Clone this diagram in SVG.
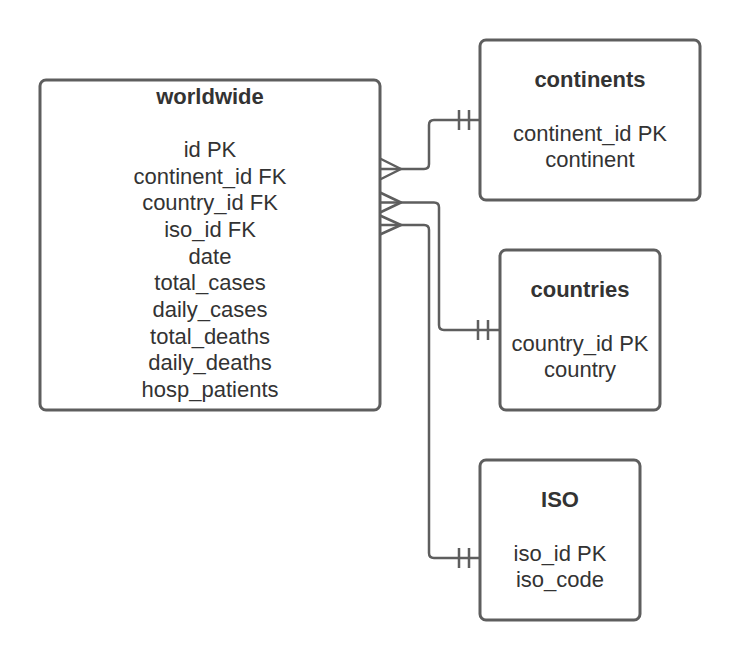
<svg xmlns="http://www.w3.org/2000/svg" width="740" height="660" viewBox="0 0 740 660">
<style>
.box{fill:#ffffff;stroke:#5e5e5e;stroke-width:3}
.ln{fill:none;stroke:#5e5e5e;stroke-width:2.5;stroke-linejoin:round}
.t{font-family:"Liberation Sans",Arial,sans-serif;font-size:22px;fill:#333333;text-anchor:middle}
.h{font-weight:bold}
</style>
<rect width="740" height="660" fill="#ffffff"/>
<g id="worldwide">
<rect class="box" x="40" y="80" width="340" height="330" rx="6"/>
<text class="t h" x="210" y="104">worldwide</text>
<text class="t" x="210" y="157">id PK</text>
<text class="t" x="210" y="184">continent_id FK</text>
<text class="t" x="210" y="210">country_id FK</text>
<text class="t" x="210" y="237">iso_id FK</text>
<text class="t" x="210" y="264">date</text>
<text class="t" x="210" y="290">total_cases</text>
<text class="t" x="210" y="317">daily_cases</text>
<text class="t" x="210" y="344">total_deaths</text>
<text class="t" x="210" y="370">daily_deaths</text>
<text class="t" x="210" y="397">hosp_patients</text>
</g>
<g id="continents">
<rect class="box" x="480" y="40" width="220" height="160" rx="6"/>
<text class="t h" x="590" y="87">continents</text>
<text class="t" x="590" y="141">continent_id PK</text>
<text class="t" x="590" y="167">continent</text>
</g>
<g id="countries">
<rect class="box" x="500" y="250" width="160" height="160" rx="6"/>
<text class="t h" x="580" y="297">countries</text>
<text class="t" x="580" y="351">country_id PK</text>
<text class="t" x="580" y="377">country</text>
</g>
<g id="iso">
<rect class="box" x="480" y="460" width="160" height="160" rx="6"/>
<text class="t h" x="560" y="507">ISO</text>
<text class="t" x="560" y="561">iso_id PK</text>
<text class="t" x="560" y="587">iso_code</text>
</g>
<g id="connectors">
<path class="ln" d="M380,169 H424 Q429,169 429,164 V125 Q429,120 434,120 H480"/>
<path class="ln" d="M380,158.5 L401,169 L380,179.5"/>
<path class="ln" d="M459,110 V130 M469,110 V130"/>
<path class="ln" d="M380,202.5 H434 Q439,202.5 439,207.5 V325 Q439,330 444,330 H500"/>
<path class="ln" d="M380,192.5 L401,202.5 L380,212.5"/>
<path class="ln" d="M478,320 V340 M488,320 V340"/>
<path class="ln" d="M380,225 H424 Q429,225 429,230 V553 Q429,558 434,558 H480"/>
<path class="ln" d="M380,215.5 L401,225 L380,234.5"/>
<path class="ln" d="M459,548 V568 M469,548 V568"/>
</g>
</svg>
